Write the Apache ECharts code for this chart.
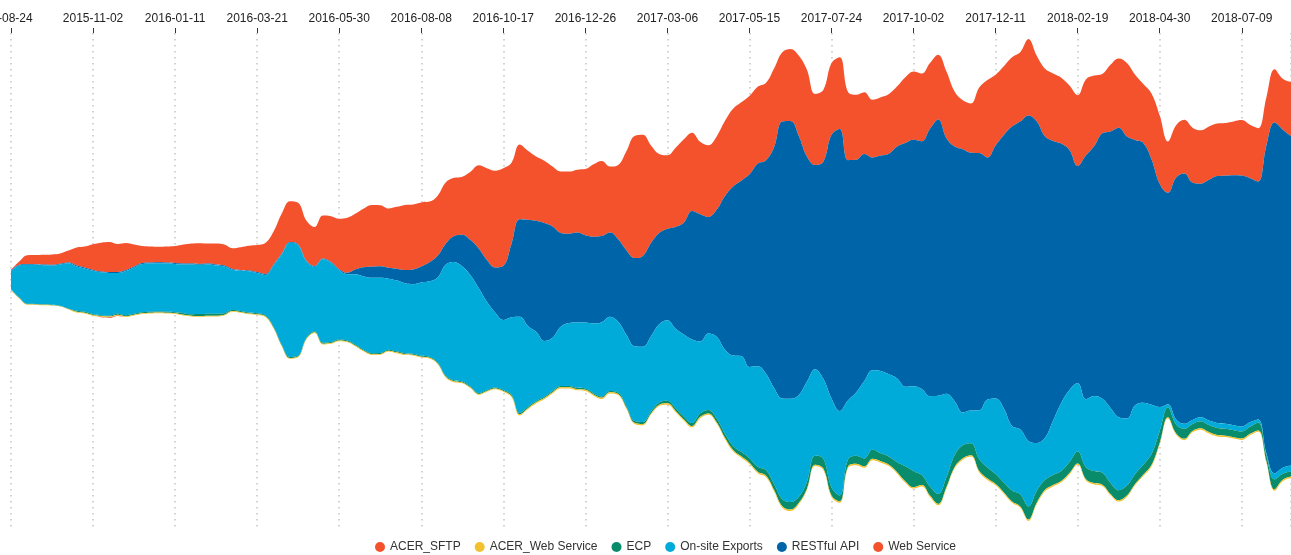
<!DOCTYPE html>
<html>
<head>
<meta charset="utf-8">
<script src="https://cdn.jsdelivr.net/npm/echarts@6/dist/echarts.min.js"></script>
<style>
  html, body { margin: 0; padding: 0; background: #fff; }
  #main { width: 1291px; height: 555px; }
</style>
</head>
<body>
<div id="main"></div>
<script>
// weekly buckets, starting Monday 2015-08-24
const startDate = Date.UTC(2015, 7, 24)
const WEEK = 7 * 86400000
const weeks = []
for (let i = 0; i < 157; i++) weeks.push(startDate + i * WEEK)

const legendNames = ['ACER_SFTP', 'ACER_Web Service', 'ECP', 'On-site Exports', 'RESTful API', 'Web Service']

const webService = [
  1, 3.3, 8.7, 9, 9.7, 10.3, 10.3, 12, 18, 21,
  25.7, 28.7, 30, 28, 27, 22, 17, 16, 15.5, 16,
  17, 19, 20, 20.7, 20, 21, 21, 20.7, 22.7, 24.7,
  27, 31, 33, 40, 40.7, 41.7, 40, 39, 43, 45.7,
  50.3, 55, 55.7, 58.7, 61.7, 61, 59, 61.7, 65, 65,
  64, 60.7, 60, 61, 58, 58, 68.3, 83.3, 91.7, 96.7,
  97.7, 81, 74.7, 69, 64.3, 62.3, 60, 61.3, 62, 62.7,
  66, 72.3, 75, 66, 74.3, 99, 122, 121, 97.5, 79,
  73.3, 79, 83.3, 78.3, 72.3, 71.7, 73.3, 75, 77.7, 78.3,
  78.3, 76.7, 77.3, 78.7, 69, 72, 80, 86.7, 71, 71.7,
  71.7, 71.7, 68.3, 65, 61.7, 57.7, 58.3, 59.7, 60, 65.7,
  68.3, 67.7, 65.7, 64.7, 66.7, 55, 49, 49.3, 65.3, 77.3,
  70.7, 68.7, 69.3, 69.3, 76.3, 65.7, 67.7, 67.3, 65.7, 64.3,
  70.7, 76, 70.7, 59.3, 66.7, 69.3, 73.3, 65.3, 59, 65.7,
  68.3, 51.3, 52.3, 53.7, 55, 53.3, 53.3, 52.3, 52.7, 53.7,
  55.3, 53.3, 53.3, 48, 53.3, 50.7, 54
]

const restfulApi = [
  0.5, 0.6, 0.7, 0.7, 0.7, 0.7, 0.7, 0.7, 0.8, 0.8,
  0.8, 0.8, 0.8, 0.8, 0.8, 0.8, 0.8, 0.8, 0.8, 0.8,
  0.8, 0.8, 0.8, 0.8, 0.8, 0.8, 0.8, 0.8, 0.8, 0.8,
  0.8, 0.8, 0.8, 0.8, 0.8, 0.8, 0.8, 0.8, 0.8, 0.8,
  1, 1.3, 5, 9.3, 11, 11.3, 11, 11.7, 13.3, 14.7,
  16, 19, 21.7, 21, 26, 31.7, 35, 39.3, 41.7, 45,
  54, 73.3, 97.3, 106, 110.7, 117.7, 111, 93.7, 89.3, 90,
  87.3, 86.7, 86, 84, 82.3, 84.3, 88, 90.7, 93, 91,
  91.3, 101.7, 111.7, 128.3, 127, 116.3, 126.7, 153, 168.7, 175,
  192.3, 202.3, 212.7, 240.3, 276.7, 277.3, 259.3, 225, 204, 216.7,
  263.3, 281.7, 240, 232.3, 226.7, 212.3, 215, 220.3, 231.7, 243.3,
  246, 247.3, 267, 276, 255.3, 254.3, 262.7, 257.3, 257, 241.7,
  252.7, 273, 299, 307.3, 325, 321.3, 301.3, 279.3, 259, 239.7,
  216.7, 243.3, 249.3, 265, 276, 289, 281.7, 264.7, 259.3, 245,
  222.7, 211, 241.6, 249.9, 236.9, 233.3, 240.4, 246.6, 247.6, 249.6,
  250.6, 243.8, 237.6, 307.3, 350.2, 337.6, 328.9
]

const onsiteExports = [
  18.1, 32.1, 39.1, 39.1, 39.1, 39.1, 41.1, 45.1, 44.4, 43.4,
  43.4, 42.9, 42.8, 40.9, 44.4, 46.4, 48.4, 48.4, 48.4, 48.4,
  48.4, 48.7, 49.7, 49.2, 49.2, 48.4, 46.9, 40.2, 40.2, 41.2,
  40.2, 40.2, 61.2, 90.2, 114.2, 110.2, 76.2, 64.2, 83.2, 79.2,
  69.2, 66.2, 70.2, 73.2, 75.2, 75.2, 70.9, 70.9, 69.9, 69.5,
  73.2, 75.2, 84.9, 111.2, 118.2, 114.9, 111.2, 104.9, 88.2, 74.9,
  69.9, 77.5, 96.2, 80.8, 69.2, 55.8, 53.2, 59.2, 62.8, 65.2,
  65.8, 69.5, 74.2, 74.2, 70.8, 71.3, 74.7, 75.1, 75.1, 78.1,
  80.5, 79.3, 81.7, 83.4, 71.8, 76.4, 81.6, 83.9, 90.3, 95.8,
  91.1, 100.3, 96.4, 95.9, 100.6, 103.1, 101.6, 99.9, 86.3, 79.6,
  88.9, 84.3, 59.3, 63.3, 77.3, 79.6, 82.3, 82.3, 83.6, 79.6,
  84.9, 85.9, 90.3, 97.9, 83.3, 53.9, 32.9, 32.6, 48.6, 67.9,
  75.3, 73.9, 64.3, 64.9, 65.6, 47.9, 41.9, 54.3, 67.9, 71.9,
  68.3, 67.9, 74.9, 73.9, 74.9, 72.9, 66.9, 68.6, 61.9, 49.3,
  23.9, 3, 5, 5, 4, 4, 4.5, 5, 5, 5,
  5, 4.5, 3, 2, 6, 6, 6
]

const ecp = [
  0.5, 0.5, 0.5, 0.5, 0.5, 0.5, 0.5, 0.5, 0.8, 0.8,
  0.8, 0.8, 0.8, 0.8, 0.8, 0.8, 0.8, 0.8, 0.8, 0.8,
  0.8, 1.5, 1.5, 2, 2, 1.8, 1.3, 1, 1, 1,
  1, 1, 1, 1, 1, 1, 1, 1, 1, 1,
  1, 1, 1, 1, 1, 1, 1, 1, 1, 1,
  1, 1, 1, 1, 1, 1, 1, 1, 1, 1,
  1, 1.3, 1.3, 1.3, 1.3, 1.3, 1.3, 1.3, 1.3, 1.3,
  1.3, 1.3, 1.3, 1.3, 1.3, 1.5, 1.8, 2, 2, 2.3,
  2.5, 2.7, 3, 3, 3.5, 3.5, 3.7, 4, 4, 4.5,
  4.5, 5, 5.5, 6, 7, 7.5, 6, 7, 9, 10,
  8, 6, 7, 8, 8, 9, 8, 8, 10, 15,
  16, 10, 9, 10, 10, 12, 13, 12, 12, 11,
  10, 10, 11, 12, 13, 12, 10, 10, 10, 11,
  12, 12, 12, 12, 11, 10, 10, 10, 10, 11,
  12, 10, 9, 10, 7, 7, 7, 7, 7, 7,
  7, 7, 8, 6, 10, 6, 5
]

const acerWebService = [
  0.4, 0.4, 0.4, 0.4, 0.4, 0.4, 0.4, 0.4, 0.8, 0.8,
  0.8, 0.8, 0.8, 0.8, 0.8, 0.8, 0.8, 0.8, 0.8, 0.8,
  0.8, 0.8, 0.8, 0.8, 0.8, 0.8, 0.8, 0.8, 0.8, 0.8,
  0.8, 0.8, 0.8, 0.8, 0.8, 0.8, 0.8, 0.8, 0.8, 0.8,
  0.8, 0.8, 0.8, 0.8, 0.8, 0.8, 0.8, 0.8, 0.8, 0.8,
  0.8, 0.8, 0.8, 0.8, 0.8, 0.8, 0.8, 0.8, 0.8, 0.8,
  0.8, 1.2, 1.2, 1.2, 1.2, 1.2, 1.2, 1.2, 1.2, 1.2,
  1.2, 1.2, 1.2, 1.2, 1.2, 1.2, 1.2, 1.2, 1.2, 1.3,
  1.3, 1.3, 1.3, 1.3, 1.4, 1.4, 1.4, 1.4, 1.4, 1.4,
  1.4, 1.4, 1.4, 1.4, 1.4, 1.4, 1.4, 1.4, 1.4, 1.4,
  1.4, 1.4, 1.4, 1.4, 1.4, 1.4, 1.4, 1.4, 1.4, 1.4,
  1.4, 1.4, 1.4, 1.4, 1.4, 1.4, 1.4, 1.4, 1.4, 1.4,
  1.4, 1.4, 1.4, 1.4, 1.4, 1.4, 1.4, 1.4, 1.4, 1.4,
  1.4, 1.4, 1.4, 1.4, 1.4, 1.4, 1.4, 1.4, 1.4, 1.4,
  1.4, 1.4, 1.4, 1.4, 1.4, 1.4, 1.4, 1.4, 1.4, 1.4,
  1.4, 1.4, 1.4, 1.4, 1.4, 1.4, 1.4
]

const acerSftp = [
  0, 0, 0, 0, 0, 0, 0, 0, 0, 0,
  0, 0.5, 0.6, 0.5, 0, 0, 0, 0, 0, 0,
  0, 0, 0, 0, 0, 0, 0, 0, 0, 0,
  0, 0, 0, 0, 0, 0, 0, 0, 0, 0,
  0, 0, 0, 0, 0, 0, 0, 0, 0, 0,
  0, 0, 0, 0, 0, 0, 0, 0, 0, 0,
  0, 0, 0, 0, 0, 0, 0, 0, 0, 0,
  0, 0, 0, 0, 0, 0, 0, 0, 0, 0,
  0, 0, 0, 0, 0, 0, 0, 0, 0, 0,
  0, 0, 0, 0, 0, 0, 0, 0, 0, 0,
  0, 0, 0, 0, 0, 0, 0, 0, 0, 0,
  0, 0, 0, 0, 0, 0, 0, 0, 0, 0,
  0, 0, 0, 0, 0, 0, 0, 0, 0, 0,
  0, 0, 0, 0, 0, 0, 0, 0, 0, 0,
  0, 0, 0, 0, 0, 0, 0, 0, 0, 0,
  0, 0, 0, 0, 0, 0, 0
]

// stacking order: first layer ends up on top of the river
const layers = [
  ['Web Service', webService],
  ['RESTful API', restfulApi],
  ['On-site Exports', onsiteExports],
  ['ECP', ecp],
  ['ACER_Web Service', acerWebService],
  ['ACER_SFTP', acerSftp],
]
const layerColors = ['#f4522d', '#0064a8', '#00abd9', '#088c6c', '#f2c12e', '#f4522d']

const riverData = []
layers.forEach(([name, values]) => {
  values.forEach((v, i) => riverData.push([weeks[i], v, name]))
})

const pad = (n) => (n < 10 ? '0' + n : '' + n)
const fmtDate = (ms) => {
  const d = new Date(ms)
  return d.getUTCFullYear() + '-' + pad(d.getUTCMonth() + 1) + '-' + pad(d.getUTCDate())
}

const chart = echarts.init(document.getElementById('main'))
chart.setOption({
  animation: false,
  color: layerColors,
  textStyle: { fontFamily: 'Liberation Sans, Arial, sans-serif' },
  legend: {
    data: legendNames,
    left: 370,
    top: 536,
    icon: 'circle',
    itemWidth: 10,
    itemHeight: 10,
    itemGap: 14,
    textStyle: { fontSize: 12, color: '#333' },
  },
  singleAxis: {
    type: 'value',
    min: weeks[0],
    max: weeks[weeks.length - 1],
    interval: 10 * WEEK,
    position: 'top',
    top: 33,
    bottom: 28,
    left: 11,
    right: 0,
    axisLine: { show: false },
    axisTick: { show: true, length: 5, lineStyle: { color: '#333' } },
    axisLabel: {
      // first label sits on the left edge, nudge it left like the original
      formatter: (v) => (v === weeks[0] ? '{first|' + fmtDate(v) + '}' : fmtDate(v)),
      rich: { first: { padding: [0, 18, 0, 0], fontSize: 12, color: '#222' } },
      color: '#222',
      fontSize: 12,
      margin: 8,
    },
    splitLine: {
      show: true,
      lineStyle: { type: [1.5, 4.5], color: '#c4c4c4', width: 1.5, opacity: 1 },
    },
  },
  series: [
    {
      type: 'themeRiver',
      boundaryGap: [6, 6],
      label: { show: false },
      emphasis: { disabled: true },
      data: riverData,
    },
  ],
})
</script>
</body>
</html>
